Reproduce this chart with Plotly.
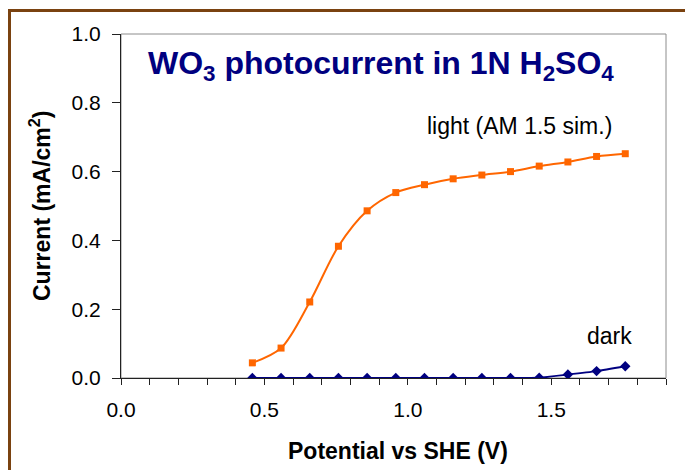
import plotly.graph_objects as go

# Potential vs SHE (V)
potential = [0.458, 0.558, 0.658, 0.758, 0.858, 0.958, 1.058, 1.158,
             1.258, 1.358, 1.458, 1.558, 1.658, 1.758]
# Photocurrent under AM 1.5 simulated light (mA/cm2)
light_current = [0.044, 0.087, 0.221, 0.383, 0.486, 0.539, 0.562, 0.579,
                 0.590, 0.600, 0.616, 0.628, 0.644, 0.652]
# Dark current (mA/cm2)
dark_current = [0.0, 0.0, 0.0, 0.0, 0.0, 0.0, 0.0, 0.0,
                0.0, 0.0, 0.001, 0.010, 0.020, 0.034]

x_ticks = [0.0, 0.5, 1.0, 1.5]
y_ticks = [0.0, 0.2, 0.4, 0.6, 0.8, 1.0]

FONT = "Arial, Liberation Sans, sans-serif"
W, H = 685, 470
L, R, T, B = 121, 19, 34, 92
PW, PH = W - L - R, H - T - B


def px_x(px):
    return (px - L) / PW


def px_y(py):
    return (H - B - py) / PH


fig = go.Figure()

fig.add_trace(go.Scatter(
    x=potential, y=light_current, mode="lines+markers",
    line=dict(color="#FF6600", width=2, shape="spline", smoothing=0.9),
    marker=dict(symbol="square", size=7, color="#FF6600"),
    name="light", showlegend=False,
))
fig.add_trace(go.Scatter(
    x=potential, y=dark_current, mode="lines+markers",
    line=dict(color="#000080", width=2, shape="spline", smoothing=0.6),
    marker=dict(symbol="diamond", size=8, color="#000080"),
    name="dark", showlegend=False,
))

fig.update_layout(
    width=W, height=H,
    margin=dict(l=L, r=R, t=T, b=B, pad=0),
    paper_bgcolor="white", plot_bgcolor="white",
    font=dict(family=FONT, color="black", size=21),
    xaxis=dict(
        range=[0, 1.9], tickvals=x_ticks, tickformat=".1f",
        showgrid=False, zeroline=False,
        showline=True, linecolor="#222222", linewidth=1,
        ticks="outside", ticklen=6, tickcolor="#222222", tickwidth=1,
        minor=dict(dtick=0.1, tick0=0, ticks="outside", ticklen=6,
                   tickcolor="#222222", tickwidth=1, showgrid=False),
        tickfont=dict(size=21, family=FONT, color="black"),
        ticklabelstandoff=7,
    ),
    yaxis=dict(
        range=[0, 1.0], tickvals=y_ticks, tickformat=".1f",
        showgrid=False, zeroline=False,
        showline=True, linecolor="#222222", linewidth=1,
        ticks="outside", ticklen=8, tickcolor="#222222", tickwidth=1,
        tickfont=dict(size=21, family=FONT, color="black"),
        ticklabelstandoff=7,
    ),
    shapes=[
        # plot-area frame
        dict(type="rect", xref="paper", yref="paper", x0=0, y0=0, x1=1, y1=1,
             line=dict(color="#8C8C8C", width=1), layer="below"),
        # outer chart border
        dict(type="rect", xref="paper", yref="paper",
             x0=px_x(9.5), y0=px_y(490), x1=px_x(700), y1=px_y(10.5),
             line=dict(color="#7A4210", width=3)),
    ],
    annotations=[
        dict(text="<b>WO<sub>3</sub> photocurrent in 1N H<sub>2</sub>SO<sub>4</sub></b>",
             xref="paper", yref="paper", x=px_x(381), y=px_y(65),
             xanchor="center", yanchor="middle", showarrow=False,
             font=dict(size=32, color="#000080", family=FONT)),
        dict(text="light (AM 1.5 sim.)",
             xref="paper", yref="paper", x=px_x(614), y=px_y(126),
             xanchor="right", yanchor="middle", showarrow=False,
             font=dict(size=23, color="black", family=FONT)),
        dict(text="dark",
             xref="paper", yref="paper", x=px_x(609), y=px_y(336),
             xanchor="center", yanchor="middle", showarrow=False,
             font=dict(size=23, color="black", family=FONT)),
        dict(text="<b>Potential vs SHE (V)</b>",
             xref="paper", yref="paper", x=px_x(398), y=px_y(451),
             xanchor="center", yanchor="middle", showarrow=False,
             font=dict(size=23, color="black", family=FONT)),
        dict(text="<b>Current (mA/cm<sup>2</sup>)</b>",
             xref="paper", yref="paper", x=px_x(40), y=px_y(206),
             xanchor="center", yanchor="middle", showarrow=False,
             textangle=-90,
             font=dict(size=23, color="black", family=FONT)),
    ],
)

fig.write_html("out.html")
